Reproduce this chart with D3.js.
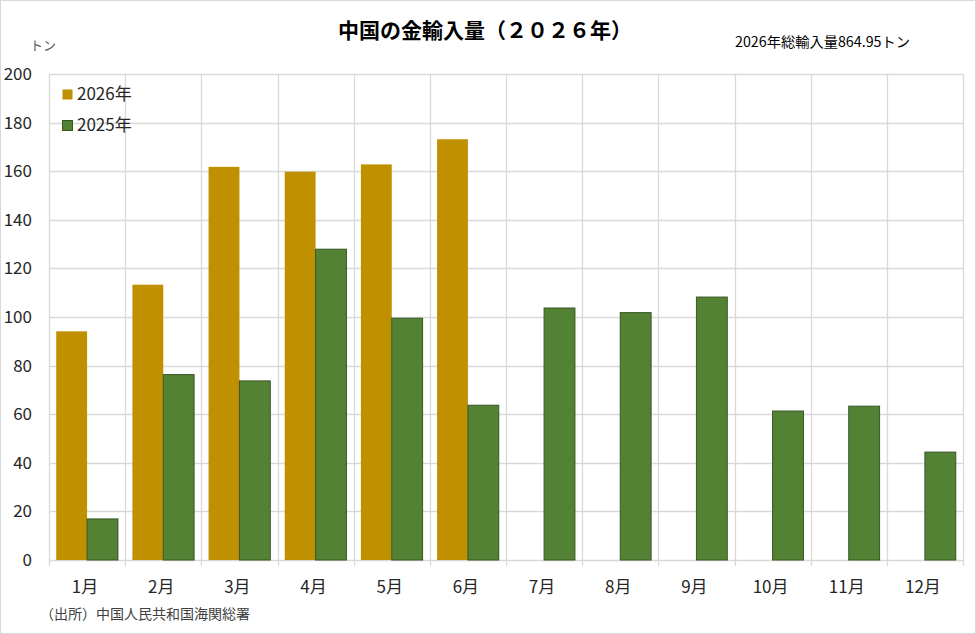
<!DOCTYPE html>
<head>
  <meta charset="utf-8">
  <script src="https://cdnjs.cloudflare.com/ajax/libs/d3/7.8.5/d3.min.js"></script>
  <style>
    body { margin:0; background:#fff; }
    svg { display:block; font-family:"Noto Sans CJK JP","Noto Sans",sans-serif; }
  </style>
</head>

<body>
  <script>
    var MONTHS = ["1月","2月","3月","4月","5月","6月","7月","8月","9月","10月","11月","12月"];
    var SERIES = ["2026年","2025年"];
    var VALUES_2026 = [94.1, 113.3, 161.8, 159.8, 162.8, 173.15];
    var VALUES_2025 = [16.9, 76.3, 73.7, 127.9, 99.5, 63.7, 103.7, 101.8, 108.2, 61.3, 63.3, 44.4];
    var Y_TICKS = [0, 20, 40, 60, 80, 100, 120, 140, 160, 180, 200];
    var TITLE = "中国の金輸入量（２０２６年）";
    var NOTE = "2026年総輸入量864.95トン";
    var UNIT = "トン";
    var SOURCE = "（出所）中国人民共和国海関総署";

    var COLORS = {"2026年": "#BF9000", "2025年": "#548235"};
    var STROKES = {"2026年": "none", "2025年": "#375623"};

    var W = 976, H = 634;
    var plot = {left: 49, right: 963, top: 74, bottom: 560};

    var svg = d3.select("body").append("svg")
      .attr("width", W)
      .attr("height", H);

    // outer frame
    svg.append("rect")
      .attr("x", 0.5).attr("y", 0.5)
      .attr("width", W - 1).attr("height", H - 1)
      .attr("fill", "#fff").attr("stroke", "#d9d9d9");

    var x = d3.scaleBand().domain(MONTHS).range([plot.left, plot.right]).padding(0);
    var groupW = x.bandwidth() * 0.81;
    var x1 = d3.scaleBand().domain(SERIES)
      .range([(x.bandwidth() - groupW) / 2, (x.bandwidth() + groupW) / 2]).padding(0);
    var y = d3.scaleLinear().domain([0, 200]).range([plot.bottom, plot.top]);

    // horizontal gridlines
    svg.append("g").selectAll("line").data(Y_TICKS).enter().append("line")
      .attr("x1", plot.left).attr("x2", plot.right)
      .attr("y1", function(d){ return Math.round(y(d)) + 0.5; })
      .attr("y2", function(d){ return Math.round(y(d)) + 0.5; })
      .attr("stroke", "#d9d9d9").attr("stroke-width", 1.3);

    // vertical gridlines at category boundaries (with the little tick below axis)
    var bounds = MONTHS.map(function(m){ return x(m); }).concat([plot.right]);
    svg.append("g").selectAll("line").data(bounds).enter().append("line")
      .attr("x1", function(d){ return Math.round(d) + 0.5; })
      .attr("x2", function(d){ return Math.round(d) + 0.5; })
      .attr("y1", plot.top).attr("y2", plot.bottom + 6)
      .attr("stroke", "#d9d9d9").attr("stroke-width", 1.3);

    // y tick labels
    svg.append("g").selectAll("text").data(Y_TICKS).enter().append("text")
      .attr("x", 32)
      .attr("y", function(d){ return y(d) + 6; })
      .attr("text-anchor", "end")
      .attr("font-size", 17)
      .attr("fill", "#262626")
      .text(function(d){ return d; });

    // bars
    var rows = MONTHS.map(function(m, i){
      return {month: m, vals: [
        {s: "2026年", v: VALUES_2026[i]},
        {s: "2025年", v: VALUES_2025[i]}
      ].filter(function(d){ return d.v != null; })};
    });

    svg.append("g").selectAll("g").data(rows).enter().append("g")
      .attr("transform", function(d){ return "translate(" + x(d.month) + ",0)"; })
      .selectAll("rect").data(function(d){ return d.vals; }).enter().append("rect")
        .attr("x", function(d){ return x1(d.s); })
        .attr("width", x1.bandwidth())
        .attr("y", function(d){ return y(d.v); })
        .attr("height", function(d){ return plot.bottom - y(d.v); })
        .attr("fill", function(d){ return COLORS[d.s]; })
        .attr("stroke", function(d){ return STROKES[d.s]; })
        .attr("stroke-width", 1);

    // x labels
    svg.append("g").selectAll("text").data(MONTHS).enter().append("text")
      .attr("x", function(d){ return x(d) + x.bandwidth() / 2 - 2; })
      .attr("y", 593)
      .attr("text-anchor", "middle")
      .attr("font-size", 17)
      .attr("fill", "#262626")
      .text(function(d){ return d; });

    // legend
    var leg = svg.append("g").selectAll("g").data(SERIES).enter().append("g")
      .attr("transform", function(d, i){ return "translate(62," + (89 + i * 31) + ")"; });
    leg.append("rect")
      .attr("x", 0.5).attr("y", 0.5).attr("width", 10).attr("height", 10)
      .attr("fill", function(d){ return COLORS[d]; })
      .attr("stroke", function(d){ return STROKES[d]; });
    leg.append("text")
      .attr("x", 15).attr("y", 11)
      .attr("font-size", 17)
      .attr("fill", "#262626")
      .text(function(d){ return d; });

    // title and texts
    svg.append("text")
      .attr("x", 485).attr("y", 38)
      .attr("text-anchor", "middle")
      .attr("font-size", 21).attr("font-weight", "bold")
      .attr("fill", "#000")
      .text(TITLE);

    svg.append("text")
      .attr("x", 735).attr("y", 47)
      .attr("font-size", 14)
      .attr("textLength", 175).attr("lengthAdjust", "spacingAndGlyphs")
      .attr("fill", "#000")
      .text(NOTE);

    svg.append("text")
      .attr("x", 30).attr("y", 50)
      .attr("font-size", 13)
      .attr("fill", "#595959")
      .text(UNIT);

    svg.append("text")
      .attr("x", 40).attr("y", 619)
      .attr("font-size", 14)
      .attr("fill", "#404040")
      .text(SOURCE);
  </script>
</body>
